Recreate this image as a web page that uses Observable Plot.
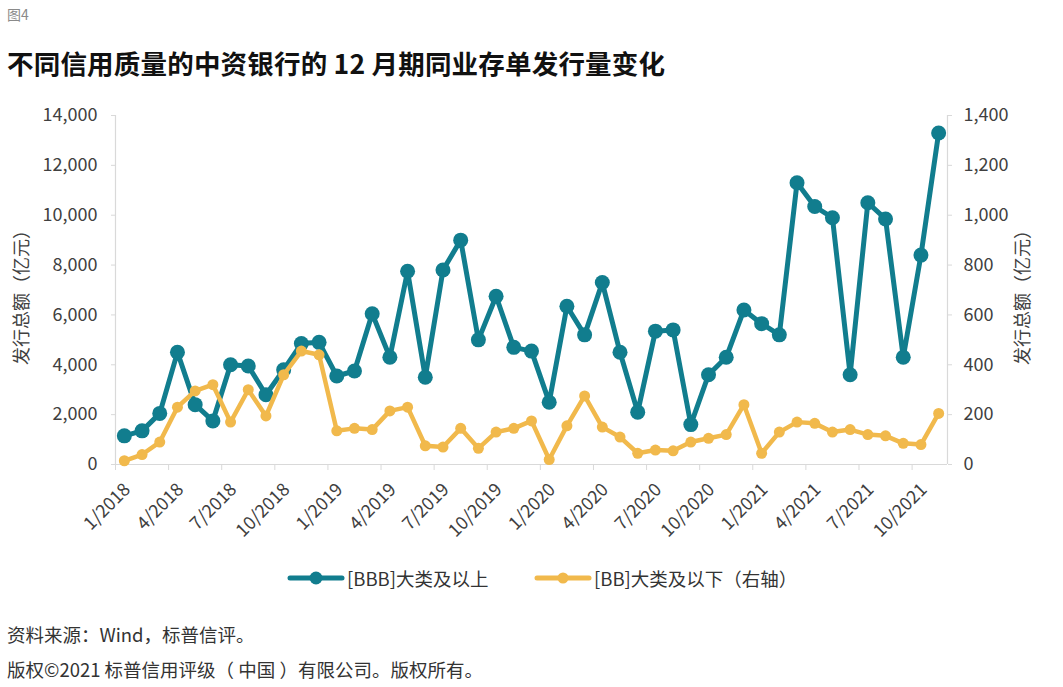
<!DOCTYPE html>
<html>
<head>
<meta charset="utf-8">
<script src="https://cdn.jsdelivr.net/npm/d3@7"></script>
<script src="https://cdn.jsdelivr.net/npm/@observablehq/plot@0.6"></script>
<style>
  body { margin: 0; background: #fff; font-family: "Noto Sans CJK SC", "Noto Sans", sans-serif; }
  #wrap { position: relative; width: 1063px; height: 687px; overflow: hidden; background: #fff; }
  #fig { position: absolute; left: 7px; top: 4px; font-size: 14px; color: #8a8a8a; }
  #title { position: absolute; left: 7px; top: 43px; font-size: 26.5px; font-weight: bold; color: #111; letter-spacing: 0.2px; }
  #chart { position: absolute; left: 0; top: 95px; }
  #legend { position: absolute; top: 565px; left: 0; width: 1063px; font-size: 18.5px; color: #333; }
  .item { position: absolute; display: flex; align-items: center; white-space: nowrap; }
  .item svg { margin-right: 2px; }
  .note { position: absolute; left: 7px; font-size: 18.5px; color: #333; }
</style>
</head>
<body>
<div id="wrap">
  <div id="fig">图4</div>
  <div id="title">不同信用质量的中资银行的 12 月期同业存单发行量变化</div>
  <div id="chart"></div>
  <div id="legend"></div>
  <div class="note" style="top:621px">资料来源：Wind，标普信评。</div>
  <div class="note" style="top:656px">版权©2021 标普信用评级（ 中国 ）有限公司。版权所有。</div>
</div>
<script>
// Monthly issuance of 12-month NCDs, Jan 2018 – Nov 2021
const months = [
  "1/2018","2/2018","3/2018","4/2018","5/2018","6/2018","7/2018","8/2018","9/2018","10/2018","11/2018","12/2018",
  "1/2019","2/2019","3/2019","4/2019","5/2019","6/2019","7/2019","8/2019","9/2019","10/2019","11/2019","12/2019",
  "1/2020","2/2020","3/2020","4/2020","5/2020","6/2020","7/2020","8/2020","9/2020","10/2020","11/2020","12/2020",
  "1/2021","2/2021","3/2021","4/2021","5/2021","6/2021","7/2021","8/2021","9/2021","10/2021","11/2021"
];

// [BBB] and above (left axis, 亿元)
const bbbValues = [
  1150, 1350, 2050, 4500, 2400, 1750, 4000, 3950, 2800, 3800, 4850, 4900,
  3550, 3750, 6050, 4300, 7750, 3500, 7800, 9000, 5000, 6750, 4700, 4550,
  2500, 6350, 5200, 7300, 4500, 2100, 5350, 5400, 1600, 3600, 4300, 6200,
  5650, 5200, 11300, 10350, 9900, 3600, 10500, 9850, 4300, 8400, 13300
];

// [BB] and below (right axis, 亿元)
const bbValues = [
  15, 40, 90, 230, 295, 320, 170, 300, 195, 360, 455, 440,
  135, 145, 140, 215, 230, 75, 70, 145, 65, 130, 145, 175,
  20, 155, 275, 150, 110, 45, 58, 55, 90, 105, 120, 240,
  45, 130, 170, 165, 130, 140, 120, 115, 85, 80, 205
];

const leftTicks = [0, 2000, 4000, 6000, 8000, 10000, 12000, 14000];
const rightScale = 10; // right axis 0–1,400 maps onto left axis 0–14,000
const labelEvery = 3;
const axisTitle = "发行总额（亿元）";
const seriesNames = ["[BBB]大类及以上", "[BB]大类及以下（右轴）"];
const colors = ["#117d8e", "#f1b94c"];

const rows = months.map((m, i) => ({ i, m, bbb: bbbValues[i], bb: bbValues[i] }));
const n = months.length;
const labelIdx = d3.range(0, n, labelEvery);
const boundaries = d3.range(-0.5, n - 0.5, labelEvery);
const fmt = d3.format(",");
const grey = "#d9d9d9";
const ink = "#404040";

const chart = Plot.plot({
  width: 1063,
  height: 450,
  marginLeft: 115,
  marginRight: 116,
  marginTop: 20,
  marginBottom: 81,
  x: { domain: [-0.5, n - 0.5] },
  y: { domain: [0, 14000] },
  style: { fontFamily: '"Noto Sans CJK SC", "Noto Sans", sans-serif', fontSize: "18px", color: ink, background: "transparent" },
  marks: [
    Plot.ruleY([0], { stroke: grey, strokeWidth: 1.2 }),
    Plot.ruleX([-0.5, n - 0.5], { stroke: grey, strokeWidth: 1.2 }),
    Plot.axisY({ ticks: leftTicks, tickSize: 4, tickPadding: 14, tickFormat: fmt, label: null, stroke: grey, fill: ink }),
    Plot.axisY({ anchor: "right", ticks: leftTicks, tickSize: 4, tickPadding: 12, tickFormat: d => fmt(d / rightScale), label: null, stroke: grey, fill: ink }),
    Plot.axisX({ ticks: boundaries, tickSize: 6, tickFormat: () => "", label: null, stroke: grey }),
    Plot.axisX({ ticks: labelIdx, tickSize: 0, tickPadding: 22, dx: 3, tickRotate: -45, tickFormat: i => months[i], label: null, fill: ink }),
    Plot.text([axisTitle], { frameAnchor: "left", textAnchor: "middle", dx: -93, dy: 3, rotate: -90, fontSize: 18, fill: ink }),
    Plot.text([axisTitle], { frameAnchor: "right", textAnchor: "middle", dx: 76, dy: 3, rotate: -90, fontSize: 18, fill: ink }),
    Plot.line(rows, { x: "i", y: "bbb", stroke: colors[0], strokeWidth: 5, strokeLinejoin: "round" }),
    Plot.dot(rows, { x: "i", y: "bbb", r: 7.5, fill: colors[0] }),
    Plot.line(rows, { x: "i", y: d => d.bb * rightScale, stroke: colors[1], strokeWidth: 4.5, strokeLinejoin: "round" }),
    Plot.dot(rows, { x: "i", y: d => d.bb * rightScale, r: 5.5, fill: colors[1] })
  ]
});
document.getElementById("chart").appendChild(chart);

// Legend: line-with-marker swatches
const legend = d3.select("#legend");
const legendX = [287, 534];
seriesNames.forEach((name, k) => {
  const item = legend.append("div").attr("class", "item").style("left", legendX[k] + "px").style("top", "0px");
  const sw = item.append("svg").attr("width", 58).attr("height", 26);
  sw.append("line").attr("x1", 3).attr("x2", 55).attr("y1", 13).attr("y2", 13)
    .attr("stroke", colors[k]).attr("stroke-width", 5).attr("stroke-linecap", "round");
  sw.append("circle").attr("cx", 29).attr("cy", 13).attr("r", k === 0 ? 6.5 : 5.5).attr("fill", colors[k]);
  item.append("span").text(name);
});
</script>
</body>
</html>
